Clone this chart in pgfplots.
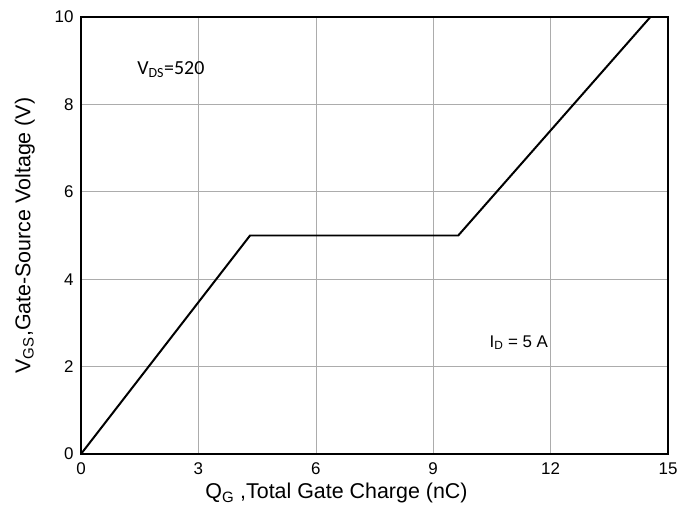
\documentclass[border=0pt]{standalone}
\usepackage{pgfplots}
\pgfplotsset{compat=1.18}
\usepackage{fontspec}
\setmainfont{Liberation Sans}
\newfontfamily\carlito{Carlito}
\begin{document}
\begin{tikzpicture}
\path[use as bounding box] (-81bp,-58bp) rectangle (617bp,454bp);
\begin{axis}[
  at={(0,0)}, anchor=south west,
  scale only axis, width=587bp, height=437bp,
  xmin=0, xmax=15, ymin=0, ymax=10,
  xtick={0,3,...,15}, ytick={0,2,...,10},
  grid=major,
  major grid style={gray!65, line width=0.6pt},
  axis line style={black, line width=1.5pt},
  major tick length=0pt,
  /pgf/number format/assume math mode=true,
  xticklabel style={font=\fontsize{17}{19}\selectfont, yshift=-5bp},
  yticklabel style={font=\fontsize{17}{19}\selectfont, xshift=-4bp},
  xlabel={Q\textsubscript{G} ,Total Gate Charge (nC)},
  ylabel={V\textsubscript{GS},Gate-Source Voltage (V)},
  xlabel style={font=\fontsize{21.5}{24}\selectfont, yshift=-2bp, xshift=-38bp},
  ylabel style={font=\fontsize{21.5}{24}\selectfont, yshift=13bp},
]
\addplot[black, line width=2pt] coordinates {(0,0) (4.32,5) (9.64,5) (14.55,10)};
\node[anchor=west, font=\carlito\fontsize{20}{22}\selectfont] at (axis cs:1.35,8.8) {V\textsubscript{DS}=520};
\node[anchor=west, font=\fontsize{17}{19}\selectfont] at (axis cs:10.35,2.55) {I\textsubscript{D} = 5 A};
\end{axis}
\end{tikzpicture}
\end{document}
